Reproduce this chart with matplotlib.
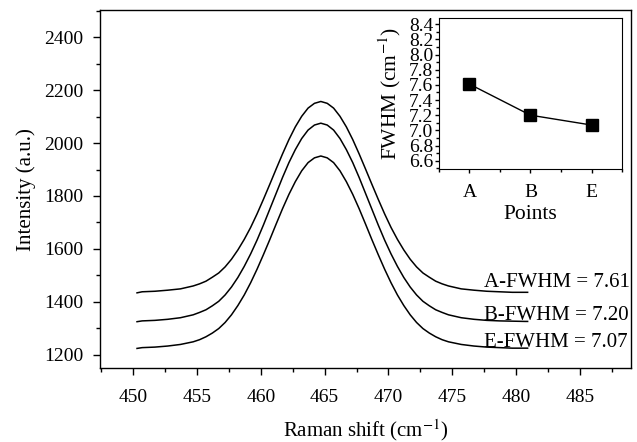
import matplotlib
matplotlib.use("Agg")
import matplotlib.pyplot as plt
from matplotlib.ticker import MultipleLocator

plt.rcParams['font.family'] = ['Liberation Serif', 'DejaVu Serif']
plt.rcParams['mathtext.fontset'] = 'stix'

# Raman spectra
shift = [450.3, 450.7, 451.7, 452.7, 453.7,
         454.7, 455.2, 455.7, 456.2, 456.7, 457.2, 457.7, 458.2, 458.7, 459.2,
         459.7, 460.2, 460.7, 461.2, 461.7, 462.2, 462.7, 463.2, 463.7, 464.2,
         464.7, 465.2, 465.7, 466.2, 466.7, 467.2, 467.7, 468.2, 468.7, 469.2,
         469.7, 470.2, 470.7, 471.2, 471.7, 472.2, 472.7, 473.2, 473.7, 474.2,
         474.7, 475.7, 476.7, 477.7, 478.7, 479.7, 480.7, 480.9]
spec_A = [1434, 1438, 1440, 1444, 1449,
          1460, 1468, 1478, 1493, 1509, 1532, 1561, 1596, 1636, 1681,
          1732, 1787, 1844, 1902, 1959, 2013, 2061, 2101, 2132, 2150,
          2157, 2150, 2132, 2101, 2061, 2013, 1959, 1902, 1844, 1787,
          1732, 1681, 1636, 1596, 1561, 1532, 1509, 1493, 1478, 1468,
          1460, 1449, 1444, 1440, 1438, 1436, 1436, 1436]
spec_B = [1325, 1328, 1330, 1334, 1340,
          1351, 1360, 1370, 1385, 1402, 1426, 1456, 1492, 1534, 1581,
          1633, 1690, 1750, 1810, 1870, 1926, 1975, 2017, 2049, 2068,
          2075, 2068, 2049, 2017, 1975, 1926, 1870, 1810, 1750, 1690,
          1633, 1581, 1534, 1492, 1456, 1426, 1402, 1385, 1370, 1360,
          1351, 1340, 1334, 1330, 1328, 1327, 1326, 1326]
spec_E = [1224, 1227, 1229, 1233, 1239,
          1249, 1257, 1268, 1282, 1299, 1322, 1351, 1386, 1426, 1472,
          1523, 1578, 1635, 1694, 1752, 1806, 1854, 1895, 1926, 1944,
          1951, 1944, 1926, 1895, 1854, 1806, 1752, 1694, 1635, 1578,
          1523, 1472, 1426, 1386, 1351, 1322, 1299, 1282, 1268, 1257,
          1249, 1239, 1233, 1229, 1227, 1225, 1225, 1225]

labels = ['A-FWHM = 7.61', 'B-FWHM = 7.20', 'E-FWHM = 7.07']
label_y = [1457, 1332, 1231]

points = ['A', 'B', 'E']
fwhm = [7.61, 7.20, 7.07]

fig = plt.figure(figsize=(6.37, 4.42), dpi=100)
ax = fig.add_axes([0.157, 0.1674, 0.8336, 0.8096])

for s in [spec_A, spec_B, spec_E]:
    ax.plot(shift, s, color='black', lw=1.1)

for t, y in zip(labels, label_y):
    ax.text(477.45, y, t, fontsize=15, va='baseline', ha='left', clip_on=False)

ax.set_xlim(447.4, 489.0)
ax.set_ylim(1150, 2502)
ax.xaxis.set_major_locator(MultipleLocator(5))
ax.xaxis.set_minor_locator(MultipleLocator(2.5))
ax.yaxis.set_major_locator(MultipleLocator(200))
ax.yaxis.set_minor_locator(MultipleLocator(100))
ax.tick_params(which='both', direction='out', labelsize=14, width=1)
ax.tick_params(which='major', length=5)
ax.tick_params(which='minor', length=3)
ax.tick_params(axis='x', pad=10)
ax.tick_params(axis='y', pad=7)
for sp in ax.spines.values():
    sp.set_linewidth(1)
ax.set_xlabel('Raman shift (cm$^{-1}$)', fontsize=15, labelpad=8)
ax.set_ylabel('Intensity (a.u.)', fontsize=15, labelpad=6)

# inset
ins = fig.add_axes([0.689, 0.6176, 0.2875, 0.3414])
ins.plot(range(len(points)), fwhm, color='black', lw=1, marker='s',
         markersize=8.5, markerfacecolor='black', markeredgecolor='black')
ins.set_xlim(-0.5, 2.5)
ins.set_xticks(range(len(points)))
ins.set_xticklabels(points)
ins.xaxis.set_minor_locator(MultipleLocator(0.5))
ins.set_yticks([6.6, 6.8, 7.0, 7.2, 7.4, 7.6, 7.8, 8.0, 8.2, 8.4])
ins.set_yticklabels(['%.1f' % v for v in ins.get_yticks()])
ins.yaxis.set_minor_locator(MultipleLocator(0.1))
ins.set_ylim(6.49, 8.48)
ins.tick_params(which='both', direction='out', labelsize=14, width=1)
ins.tick_params(which='major', length=3)
ins.tick_params(which='minor', length=2)
ins.tick_params(axis='y', pad=1)
ins.tick_params(axis='x', pad=8)
ins.set_xlabel('Points', fontsize=15.5, labelpad=3)
ins.set_ylabel('FWHM (cm$^{-1}$)', fontsize=15.5, labelpad=4)

fig.savefig('out.png', dpi=100)
